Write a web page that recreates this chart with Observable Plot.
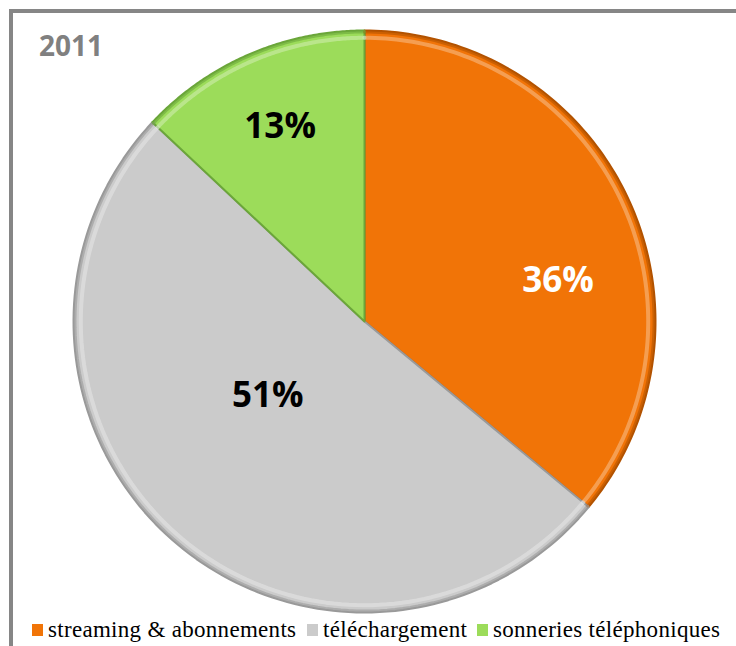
<!DOCTYPE html>
<html>
<head>
<meta charset="utf-8">
<script src="https://cdn.jsdelivr.net/npm/d3@7"></script>
<script src="https://cdn.jsdelivr.net/npm/@observablehq/plot@0.6"></script>
<style>
  html, body { margin: 0; padding: 0; background: #fff; width: 736px; height: 646px; overflow: hidden; }
  #frame { position: absolute; left: 9px; top: 9px; width: 800px; height: 700px; border-left: 4px solid #868686; border-top: 4px solid #868686; box-sizing: border-box; }
  #chart { position: absolute; left: 0; top: 0; }
  #title { position: absolute; left: 39px; top: 31px; font-family: "Open Sans", sans-serif; font-weight: bold; font-size: 28px; color: #808080; line-height: 1; }
  #legend { position: absolute; left: 0; top: 618px; width: 736px; height: 28px; font-family: "Liberation Serif", "DejaVu Serif", serif; font-size: 23px; letter-spacing: 0.3px; color: #000; white-space: nowrap; line-height: 1; }
  #legend .item { position: absolute; top: 0; display: flex; align-items: center; }
  #legend .sw { width: 11px; height: 12px; margin-right: 5px; }
</style>
</head>
<body>
<div id="frame"></div>
<div id="chart"></div>
<div id="title">2011</div>
<div id="legend"></div>
<script>
const categories = ["streaming & abonnements", "téléchargement", "sonneries téléphoniques"];
const values = [36, 51, 13];
const colors = ["#F17407", "#CBCBCB", "#9CDC5A"];
const labelColors = ["#ffffff", "#000000", "#000000"];
const edgeColors = ["#B35300", "#9A9A9A", "#6BA63A"];

const data = categories.map((c, i) => ({category: c, value: values[i]}));
const arcs = d3.pie().sort(null).value(d => d.value)(data);

// polygon points for each slice (unit circle coordinates)
const pts = [];
arcs.forEach((a, i) => {
  const n = 120;
  pts.push({k: i, x: 0, y: 0});
  for (let j = 0; j <= n; j++) {
    const t = a.startAngle + (a.endAngle - a.startAngle) * j / n;
    pts.push({k: i, x: Math.sin(t), y: Math.cos(t)});
  }
  pts.push({k: i, x: 0, y: 0});
});
// outer rim points (for a soft bevel highlight)
const rim = pts.filter(p => !(p.x === 0 && p.y === 0));

// label placement: radius fraction and angular shift from slice middle (degrees)
const labelR = [0.68, 0.42, 0.73];
const labelShift = [13.3, 11, 0];
const labels = arcs.map((a, i) => {
  const m = (a.startAngle + a.endAngle) / 2 + labelShift[i] * Math.PI / 180;
  return {x: Math.sin(m) * labelR[i], y: Math.cos(m) * labelR[i], text: values[i] + "%", i};
});

const plot = Plot.plot({
  width: 736,
  height: 646,
  margin: 0,
  x: {domain: [-1, 1], range: [73, 655], axis: null},
  y: {domain: [-1, 1], range: [612, 30], axis: null},
  marks: [
    Plot.line(pts, {x: "x", y: "y", z: "k", fill: d => colors[d.k], stroke: d => edgeColors[d.k], strokeWidth: 2, strokeLinejoin: "round"}),
    Plot.line(rim.map(p => ({...p, x: p.x * 0.975, y: p.y * 0.975})), {x: "x", y: "y", z: "k", stroke: "#ffffff", strokeOpacity: 0.3, strokeWidth: 4}),
    Plot.line(rim.map(p => ({...p, x: p.x * 0.995, y: p.y * 0.995})), {x: "x", y: "y", z: "k", stroke: d => edgeColors[d.k], strokeOpacity: 0.6, strokeWidth: 3}),
    Plot.text(labels, {x: "x", y: "y", text: "text", fill: d => labelColors[d.i], fontFamily: "Open Sans", fontWeight: "bold", fontSize: 35})
  ]
});
document.getElementById("chart").appendChild(plot);

// legend entries, left edges matched to the reference layout
const legendLeft = [32, 307, 477];
const legend = document.getElementById("legend");
categories.forEach((c, i) => {
  const it = document.createElement("div");
  it.className = "item";
  it.style.left = legendLeft[i] + "px";
  const sw = document.createElement("div");
  sw.className = "sw";
  sw.style.background = colors[i];
  it.appendChild(sw);
  const tx = document.createElement("span");
  tx.textContent = c;
  it.appendChild(tx);
  legend.appendChild(it);
});
</script>
</body>
</html>
